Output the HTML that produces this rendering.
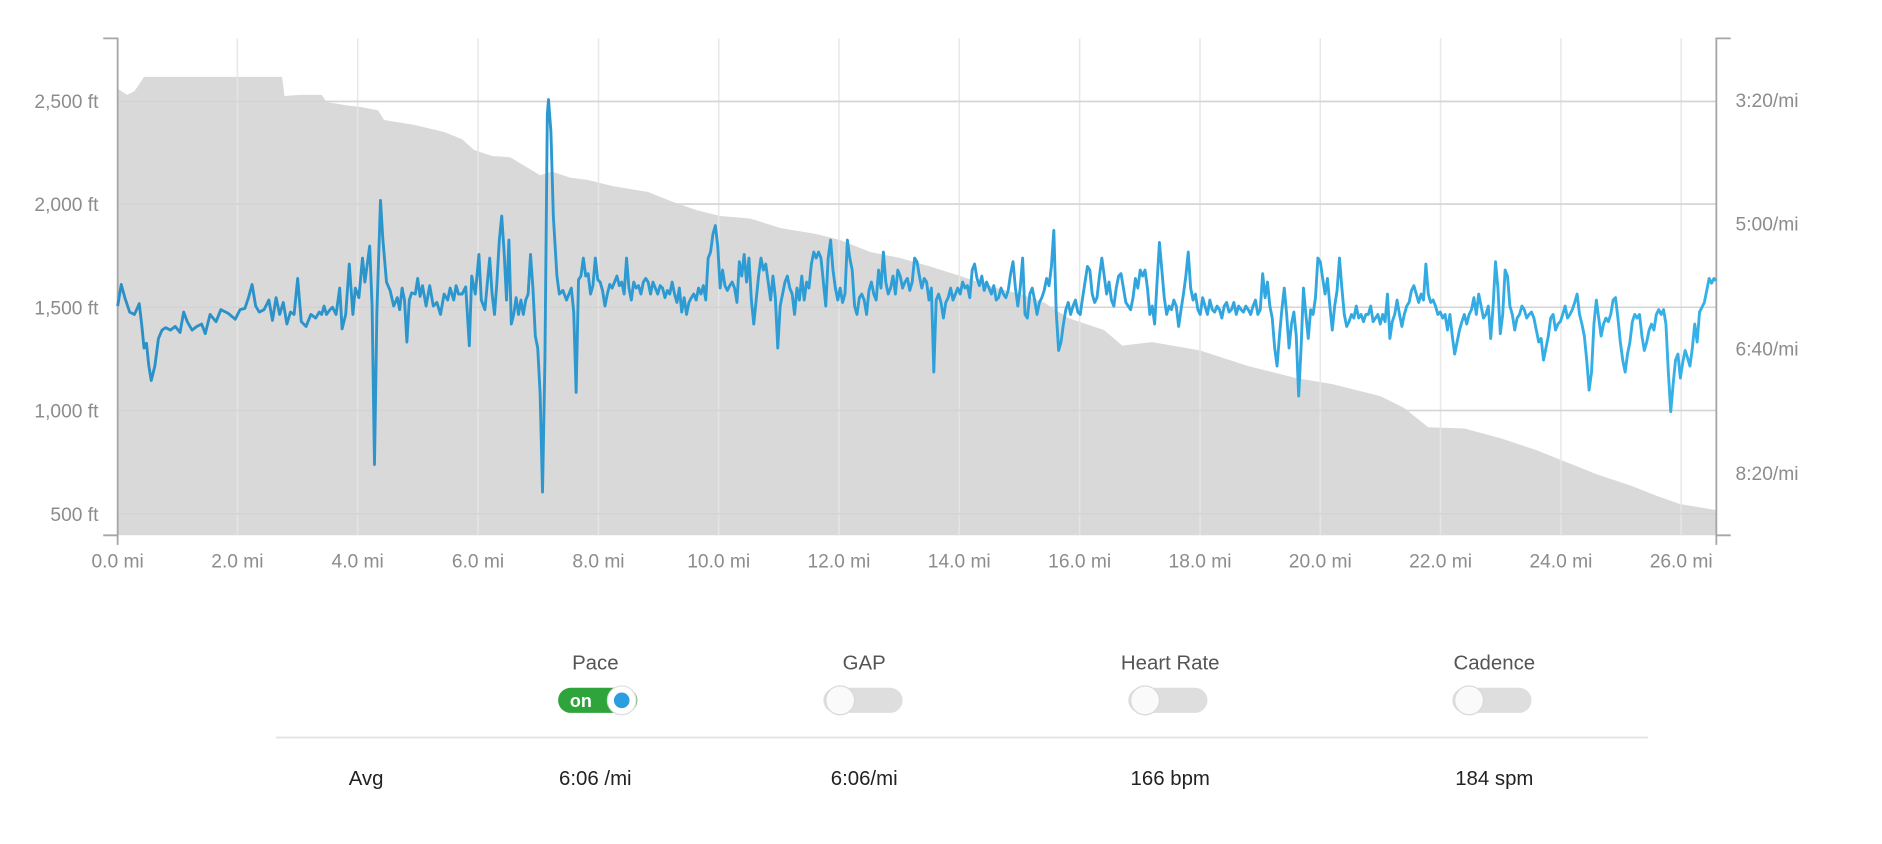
<!DOCTYPE html>
<html><head><meta charset="utf-8"><style>
html,body{margin:0;padding:0;background:#fff;width:1882px;height:844px;overflow:hidden}
svg{display:block}
text{font-family:"Liberation Sans",Arial,sans-serif}
</style></head><body>
<svg width="1882" height="844" viewBox="0 0 1568 703.2" xmlns="http://www.w3.org/2000/svg">
<defs>
<linearGradient id="lg" x1="0" x2="1" y1="0" y2="0">
<stop offset="0" stop-color="#2b90c6"/><stop offset="0.5" stop-color="#2e9fd8"/><stop offset="1" stop-color="#36b1e8"/>
</linearGradient>
</defs>
<!-- elevation -->
<path fill="#d9d9d9" d="M98,446 L98,74 L106,79 L112,76 L120,64 L235,64 L237,80 L250,79 L268,79 L272,85 L290,88 L300,89 L315,92 L320,100 L345,104 L370,110 L385,116 L395,125 L410,130 L425,131 L440,140 L450,146 L460,143 L475,148 L490,150 L510,155 L540,160 L560,168 L580,175 L600,180 L625,182 L650,190 L680,195 L700,200 L725,210 L750,215 L775,222 L800,230 L830,240 L850,245 L870,252 L890,265 L920,275 L935,288 L960,285 L1000,292 L1040,305 L1080,315 L1110,320 L1150,330 L1170,340 L1190,356 L1220,357 L1250,365 L1280,375 L1305,385 L1330,395 L1360,405 L1380,413 L1400,420 L1430,425 L1430,446 Z"/>
<!-- grid -->
<g stroke="#e6e6e6" stroke-width="1.3" opacity="0.9">
<line x1="98" x2="1430" y1="84.5" y2="84.5"/><line x1="98" x2="1430" y1="170" y2="170"/>
<line x1="98" x2="1430" y1="256" y2="256"/><line x1="98" x2="1430" y1="342" y2="342"/>
<line x1="98" x2="1430" y1="428" y2="428"/>
<line x1="197.8" x2="197.8" y1="32" y2="446"/><line x1="298" x2="298" y1="32" y2="446"/>
<line x1="398.3" x2="398.3" y1="32" y2="446"/><line x1="498.6" x2="498.6" y1="32" y2="446"/>
<line x1="598.8" x2="598.8" y1="32" y2="446"/><line x1="699" x2="699" y1="32" y2="446"/>
<line x1="799.2" x2="799.2" y1="32" y2="446"/><line x1="899.5" x2="899.5" y1="32" y2="446"/>
<line x1="999.8" x2="999.8" y1="32" y2="446"/><line x1="1100" x2="1100" y1="32" y2="446"/>
<line x1="1200.2" x2="1200.2" y1="32" y2="446"/><line x1="1300.5" x2="1300.5" y1="32" y2="446"/>
<line x1="1400.7" x2="1400.7" y1="32" y2="446"/>
</g>
<g stroke="#c8c8c8" stroke-width="1.3" opacity="0.6">
<line x1="98" x2="1430" y1="84.5" y2="84.5"/><line x1="98" x2="1430" y1="170" y2="170"/>
<line x1="98" x2="1430" y1="256" y2="256"/><line x1="98" x2="1430" y1="342" y2="342"/>
<line x1="98" x2="1430" y1="428" y2="428"/>
</g>
<!-- axes -->
<g stroke="#a6a6a6" stroke-width="1.5" fill="none">
<path d="M86,32 H98 V446 H86"/><path d="M1442,32 H1430 V446 H1442"/>
<line x1="98" x2="98" y1="446" y2="454"/><line x1="1430" x2="1430" y1="446" y2="454"/>
</g>
<!-- pace -->
<path fill="none" stroke="url(#lg)" stroke-width="2.4" stroke-linejoin="round" d="M98,255 L101,237 L104,248 L108,260 L112,262 L116,253 L118,270 L120,290 L122,286 L124,305 L126,317 L129,305 L132,282 L135,275 L138,273 L142,275 L146,272 L150,277 L153,260 L156,268 L160,275 L164,272 L168,270 L171,278 L175,262 L180,268 L184,258 L190,261 L196,266 L200,258 L204,257 L207,248 L210,237 L213,255 L216,260 L220,258 L224,250 L227,267 L230,248 L233,262 L236,252 L239,270 L242,260 L245,262 L248,232 L251,268 L255,272 L259,262 L263,265 L266,260 L268,262 L270,255 L272,262 L275,258 L277,256 L280,262 L283,240 L285,274 L288,262 L291,220 L294,262 L296,240 L299,248 L302,215 L304,235 L308,205 L310,255 L312,387 L314,260 L317,167 L319,200 L322,235 L325,242 L328,255 L331,248 L333,258 L335,240 L337,250 L339,285 L341,250 L343,244 L346,245 L348,232 L350,247 L352,238 L355,255 L358,238 L361,255 L364,252 L367,262 L370,245 L373,250 L375,240 L378,250 L380,238 L382,245 L385,245 L388,239 L391,288 L393,230 L396,245 L399,212 L401,250 L404,258 L406,236 L408,215 L410,245 L412,262 L414,235 L416,200 L418,180 L420,210 L422,250 L424,200 L426,270 L428,262 L430,248 L432,262 L434,250 L436,262 L438,250 L440,245 L442,212 L444,240 L446,280 L448,290 L450,328 L452,410 L454,300 L456,95 L457,83 L459,110 L461,180 L464,230 L466,245 L469,242 L472,250 L474,245 L476,240 L478,260 L480,327 L482,233 L484,230 L486,215 L488,230 L490,228 L492,245 L494,238 L496,215 L498,233 L500,235 L502,242 L504,255 L506,245 L508,237 L510,240 L512,235 L514,230 L516,238 L518,235 L520,245 L522,215 L524,240 L526,250 L528,235 L530,240 L532,238 L534,245 L536,235 L538,232 L540,235 L542,245 L544,235 L546,240 L548,245 L550,238 L552,240 L554,248 L556,242 L558,245 L560,235 L562,245 L564,252 L566,240 L568,260 L570,248 L572,262 L574,252 L576,248 L578,245 L580,250 L582,240 L584,245 L586,238 L588,250 L590,215 L592,210 L594,195 L596,188 L598,205 L600,240 L602,225 L604,238 L606,242 L608,238 L610,235 L612,240 L614,252 L616,218 L618,230 L620,212 L622,235 L624,215 L626,250 L628,270 L630,250 L632,230 L634,215 L636,225 L638,220 L640,235 L642,250 L644,230 L646,248 L648,290 L650,255 L652,245 L654,235 L656,230 L658,240 L660,245 L662,262 L664,240 L666,250 L668,230 L670,250 L672,235 L674,240 L676,220 L678,210 L680,215 L682,210 L684,215 L686,235 L688,255 L690,215 L692,200 L694,225 L696,240 L698,250 L700,240 L702,252 L704,245 L706,200 L708,215 L710,225 L712,255 L714,262 L716,248 L718,245 L720,250 L722,262 L724,242 L726,235 L728,245 L730,250 L732,225 L734,240 L736,210 L738,235 L740,245 L742,240 L744,230 L746,245 L748,225 L750,230 L752,240 L754,235 L756,232 L758,242 L760,235 L762,215 L764,218 L766,230 L768,240 L770,232 L772,235 L774,250 L776,240 L778,310 L780,250 L782,245 L784,252 L786,265 L788,252 L790,248 L792,240 L794,250 L796,245 L798,240 L800,245 L802,235 L804,240 L806,238 L808,248 L810,225 L812,220 L814,232 L816,238 L818,230 L820,242 L822,235 L824,240 L826,245 L828,238 L830,250 L832,248 L834,240 L836,245 L838,248 L840,242 L842,228 L844,218 L846,240 L848,255 L850,240 L852,215 L854,262 L856,265 L858,245 L860,240 L862,250 L864,262 L866,252 L868,248 L870,242 L872,232 L874,238 L876,222 L878,192 L880,260 L882,292 L884,285 L886,270 L888,258 L890,252 L892,262 L894,255 L896,250 L898,260 L900,262 L902,248 L904,235 L906,222 L908,225 L910,245 L912,252 L914,248 L916,230 L918,215 L920,230 L922,245 L924,235 L926,250 L928,255 L930,240 L932,230 L934,228 L936,240 L938,252 L940,255 L942,258 L944,248 L946,232 L948,240 L950,225 L952,230 L954,225 L956,240 L958,262 L960,255 L962,270 L964,235 L966,202 L968,225 L970,248 L972,262 L974,255 L976,258 L978,250 L980,255 L982,272 L984,258 L986,245 L988,230 L990,210 L992,240 L994,250 L996,245 L998,258 L1000,262 L1002,248 L1004,255 L1006,262 L1008,250 L1010,258 L1012,260 L1014,255 L1016,258 L1018,265 L1020,255 L1022,252 L1024,260 L1026,258 L1028,252 L1030,262 L1032,255 L1034,258 L1036,260 L1038,255 L1040,258 L1042,262 L1044,255 L1046,250 L1048,262 L1050,258 L1052,228 L1054,248 L1056,235 L1058,255 L1060,265 L1062,290 L1064,305 L1066,280 L1068,258 L1070,240 L1072,262 L1074,290 L1076,270 L1078,260 L1080,280 L1082,330 L1084,290 L1086,240 L1088,262 L1090,282 L1092,258 L1094,262 L1096,248 L1098,215 L1100,218 L1102,232 L1104,245 L1106,232 L1108,255 L1110,275 L1112,255 L1114,242 L1116,215 L1118,240 L1120,262 L1122,272 L1124,268 L1126,262 L1128,265 L1130,255 L1132,265 L1134,262 L1136,268 L1138,262 L1140,262 L1142,255 L1144,268 L1146,265 L1148,262 L1150,270 L1152,262 L1154,268 L1156,245 L1158,282 L1160,268 L1162,262 L1164,250 L1166,262 L1168,272 L1170,262 L1172,255 L1174,252 L1176,242 L1178,238 L1180,245 L1182,252 L1184,245 L1186,250 L1188,220 L1190,245 L1192,252 L1194,250 L1196,255 L1198,262 L1200,260 L1202,265 L1204,262 L1206,275 L1208,262 L1210,280 L1212,295 L1214,285 L1216,275 L1218,268 L1220,262 L1222,270 L1224,262 L1226,258 L1228,248 L1230,262 L1232,245 L1234,255 L1236,265 L1238,262 L1240,255 L1242,282 L1244,255 L1246,218 L1248,240 L1250,278 L1252,262 L1254,225 L1256,230 L1258,255 L1260,262 L1262,275 L1264,265 L1266,262 L1268,255 L1270,258 L1272,265 L1274,262 L1276,260 L1278,265 L1280,275 L1282,285 L1284,282 L1286,300 L1288,290 L1290,280 L1292,265 L1294,262 L1296,275 L1298,270 L1300,268 L1302,262 L1304,255 L1306,265 L1308,262 L1310,258 L1312,252 L1314,245 L1316,262 L1318,270 L1320,280 L1322,300 L1324,325 L1326,310 L1328,270 L1330,250 L1332,265 L1334,280 L1336,270 L1338,265 L1340,268 L1342,262 L1344,250 L1346,248 L1348,265 L1350,285 L1352,300 L1354,310 L1356,295 L1358,285 L1360,268 L1362,262 L1364,265 L1366,262 L1368,280 L1370,292 L1372,285 L1374,275 L1376,270 L1378,275 L1380,262 L1382,258 L1384,262 L1386,258 L1388,270 L1390,310 L1392,343 L1394,320 L1396,300 L1398,295 L1400,315 L1402,302 L1404,292 L1406,298 L1408,305 L1410,290 L1412,270 L1414,285 L1416,260 L1418,256 L1420,252 L1422,242 L1424,232 L1426,236 L1428,232 L1430,234"/>
<!-- left labels -->
<g fill="#8c8c8c" font-size="16" text-anchor="end">
<text x="82" y="90">2,500 ft</text><text x="82" y="176">2,000 ft</text>
<text x="82" y="262">1,500 ft</text><text x="82" y="348">1,000 ft</text><text x="82" y="434">500 ft</text>
</g>
<g fill="#8c8c8c" font-size="16">
<text x="1446" y="89">3:20/mi</text><text x="1446" y="192">5:00/mi</text>
<text x="1446" y="296">6:40/mi</text><text x="1446" y="400">8:20/mi</text>
</g>
<g fill="#8c8c8c" font-size="16" text-anchor="middle">
<text x="98" y="473">0.0 mi</text><text x="197.8" y="473">2.0 mi</text><text x="298" y="473">4.0 mi</text>
<text x="398.3" y="473">6.0 mi</text><text x="498.6" y="473">8.0 mi</text><text x="598.8" y="473">10.0 mi</text>
<text x="699" y="473">12.0 mi</text><text x="799.2" y="473">14.0 mi</text><text x="899.5" y="473">16.0 mi</text>
<text x="999.8" y="473">18.0 mi</text><text x="1100" y="473">20.0 mi</text><text x="1200.2" y="473">22.0 mi</text>
<text x="1300.5" y="473">24.0 mi</text><text x="1400.7" y="473">26.0 mi</text>
</g>
<!-- controls -->
<g fill="#555" font-size="17" text-anchor="middle">
<text x="496" y="558">Pace</text><text x="720" y="558">GAP</text>
<text x="975" y="558">Heart Rate</text><text x="1245" y="558">Cadence</text>
</g>
<!-- pace toggle -->
<rect x="465" y="573" width="66" height="21" rx="10.5" fill="#2fa43a"/>
<text x="484" y="589" fill="#fff" font-size="15" font-weight="bold" text-anchor="middle">on</text>
<circle cx="518" cy="583.5" r="12" fill="#fff" stroke="#ddd"/>
<circle cx="518" cy="583.5" r="6.5" fill="#2a9ee0"/>
<g>
<rect x="686" y="573" width="66" height="21" rx="10.5" fill="#dedede"/>
<circle cx="700" cy="583.5" r="12" fill="#fafafa" stroke="#d8d8d8"/>
<rect x="940" y="573" width="66" height="21" rx="10.5" fill="#dedede"/>
<circle cx="954" cy="583.5" r="12" fill="#fafafa" stroke="#d8d8d8"/>
<rect x="1210" y="573" width="66" height="21" rx="10.5" fill="#dedede"/>
<circle cx="1224" cy="583.5" r="12" fill="#fafafa" stroke="#d8d8d8"/>
</g>
<line x1="230" x2="1373" y1="614.5" y2="614.5" stroke="#e3e3e3" stroke-width="1.5"/>
<g fill="#222" font-size="17" text-anchor="middle">
<text x="305" y="654">Avg</text><text x="496" y="654">6:06 /mi</text><text x="720" y="654">6:06/mi</text>
<text x="975" y="654">166 bpm</text><text x="1245" y="654">184 spm</text>
</g>
</svg>
</body></html>
